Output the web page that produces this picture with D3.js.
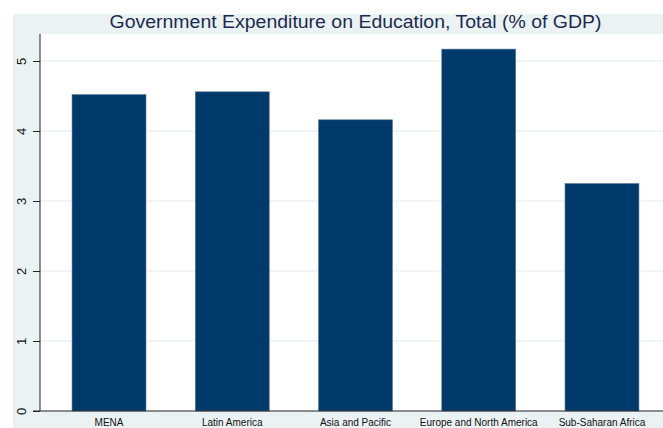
<!DOCTYPE html>
<html>
<head>
<meta charset="utf-8">
<script src="https://cdn.jsdelivr.net/npm/d3@7"></script>
<style>
  html, body { margin: 0; padding: 0; background: #ffffff; }
  svg { display: block; }
</style>
</head>
<body>
<svg id="chart" width="663" height="428"></svg>
<script>
const title = "Government Expenditure on Education, Total (% of GDP)";
const categories = ["MENA", "Latin America", "Asia and Pacific", "Europe and North America", "Sub-Saharan Africa"];
const values = [4.52, 4.56, 4.16, 5.17, 3.25];
const yTicks = [0, 1, 2, 3, 4, 5];

const svg = d3.select("#chart");
const W = 663, H = 428;
const bg = { x: 13, y: 14 };
const plot = { left: 40, top: 34, right: 671, bottom: 411 };

// outer background
svg.append("rect").attr("x", bg.x).attr("y", bg.y)
  .attr("width", W - bg.x).attr("height", H - bg.y).attr("fill", "#eaf2f3");

// plot region
svg.append("rect").attr("x", plot.left).attr("y", plot.top)
  .attr("width", plot.right - plot.left).attr("height", plot.bottom - plot.top).attr("fill", "#ffffff");

const x = d3.scaleBand().domain(categories).range([plot.left, plot.right])
  .paddingInner(0.4).paddingOuter(0.26);
const y = d3.scaleLinear().domain([0, 5]).range([plot.bottom, plot.bottom - 350]);

// gridlines
svg.append("g").selectAll("line").data(yTicks.filter(d => d > 0)).join("line")
  .attr("x1", plot.left).attr("x2", plot.right)
  .attr("y1", d => y(d)).attr("y2", d => y(d))
  .attr("stroke", "#e3ebef").attr("stroke-width", 1.2);

// bars
svg.append("g").selectAll("rect").data(categories).join("rect")
  .attr("x", d => x(d)).attr("width", x.bandwidth())
  .attr("y", (d, i) => y(values[i])).attr("height", (d, i) => y(0) - y(values[i]))
  .attr("fill", "#003a6b").attr("stroke", "#5b7a9a").attr("stroke-width", 0.6);

// y axis
const yAxis = svg.append("g").attr("transform", `translate(${plot.left},0)`)
  .call(d3.axisLeft(y).tickValues(yTicks).tickSize(7).tickPadding(5).tickFormat(d3.format("d")));
yAxis.select(".domain").attr("d", `M0,${plot.top}V${plot.bottom}`).attr("stroke", "#222");
yAxis.selectAll(".tick line").attr("stroke", "#222");
yAxis.selectAll(".tick text")
  .attr("font-family", "Liberation Sans, Arial, sans-serif").attr("font-size", 13).attr("fill", "#111")
  .attr("text-anchor", "middle").attr("dy", null).attr("x", null)
  .attr("transform", "translate(-19,0) rotate(-90)").attr("dominant-baseline", "central");

// x axis
const xAxis = svg.append("g").attr("transform", `translate(0,${plot.bottom})`)
  .call(d3.axisBottom(x).tickSize(0).tickPadding(8));
xAxis.select(".domain").attr("d", `M${plot.left - 7},0H${plot.right}`).attr("stroke", "#222").attr("stroke-width", 1.2);
xAxis.selectAll(".tick text")
  .attr("font-family", "Liberation Sans, Arial, sans-serif").attr("font-size", 10).attr("fill", "#111");

// title
svg.append("text").attr("x", (plot.left + plot.right) / 2).attr("y", 28)
  .attr("text-anchor", "middle").attr("font-family", "Liberation Sans, Arial, sans-serif")
  .attr("font-size", 17.5).attr("fill", "#1c2b4f")
  .attr("textLength", 492).attr("lengthAdjust", "spacingAndGlyphs")
  .text(title);
</script>
</body>
</html>
